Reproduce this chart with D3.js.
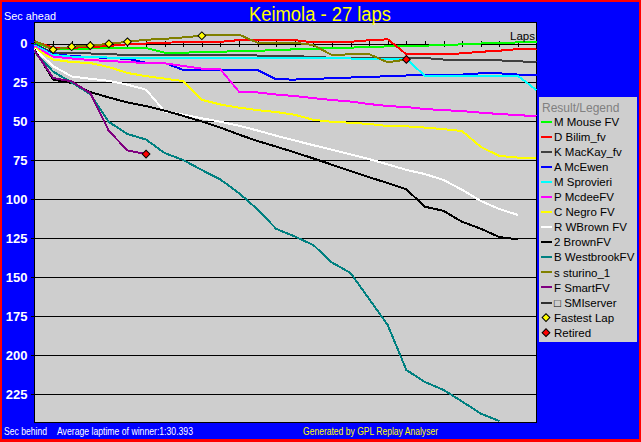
<!DOCTYPE html>
<html><head><meta charset="utf-8">
<script src="https://cdn.jsdelivr.net/npm/d3@7"></script>
<style>body{margin:0;background:#fff}svg{display:block}text{font-family:"Liberation Sans",Arial,sans-serif}</style>
</head><body>
<svg id="c" width="641" height="442"></svg>
<script>
// ---------- data ----------
const title = "Keimola - 27 laps";
const lapTicks = d3.range(1, 27);
const yTicks = [0, 25, 50, 75, 100, 125, 150, 175, 200, 225];
const drivers = ["M Mouse FV","D Bilim_fv","K MacKay_fv","A McEwen","M Sprovieri","P McdeeFV","C Negro FV","R WBrown FV","2 BrownFV","B WestbrookFV","s sturino_1","F SmartFV","\u25A1 SMIserver"];
const colors = ["#00ff00","#ff0000","#404040","#0000ff","#00ffff","#ff00ff","#ffff00","#ffffff","#000000","#008080","#808000","#800080","#303030"];
// seconds behind the winner's average pace, one value per lap (lap 0 = start)
const mouseFV    = [-0.5,3.7,3.7,3.3,3.2,3.0,3.0,6.0,6.0,5.6,5.4,4.9,4.7,4.4,3.8,3.4,3.1,2.7,2.5,1.9,1.8,1.4,1.3,0.6,0.1,-0.3,-0.6,-0.6];
const bilimFv    = [-1.3,2.8,2.8,2.4,1.7,0.6,0.1,-0.4,-0.8,-1.0,-1.0,-2.1,-2.1,-2.1,-2.1,-0.6,-0.6,-1.0,-2.0,-2.6,7.0,7.0,7.0,6.4,5.4,4.7,3.7,3.5];
const mackayFv   = [0.3,6.2,6.4,6.5,6.9,7.5,7.6,7.6,7.6,7.6,7.6,7.6,7.8,8.1,8.1,8.8,9.2,9.2,9.2,9.2,9.2,9.4,10.4,10.7,10.7,10.9,11.5,12.0];
const mcEwen     = [0.8,6.9,8.1,8.8,9.4,9.9,12.4,12.6,17.0,17.3,17.3,16.8,17.1,23.1,23.2,22.7,22.4,21.9,21.6,21.0,20.6,20.5,20.5,20.0,19.2,19.2,20.0,20.0];
const sprovieri  = [1.3,7.5,8.5,8.8,9.1,9.4,9.4,9.4,9.4,9.4,9.4,9.4,9.6,9.4,9.4,9.4,9.4,9.7,10.1,10.1,10.1,20.8,20.8,20.8,20.8,20.8,20.8,30.0];
const mcdeeFV    = [2.0,8.5,9.7,10.7,11.3,12.0,12.6,12.8,14.5,16.2,16.7,31.0,31.5,32.8,33.8,35.1,36.3,37.3,38.9,40.2,40.8,42.1,42.8,43.4,44.4,45.3,46.0,46.7];
const negroFV    = [2.8,10.4,12.0,12.6,15.2,19.0,21.0,22.6,24.2,36.2,39.2,41.2,42.8,44.0,45.8,49.0,50.3,50.9,51.7,53.0,53.2,54.0,55.0,56.2,66.3,72.2,73.2,73.3];
const wbrownFV   = [3.4,14.6,21.2,22.7,24.0,26.5,29.7,43.6,45.7,48.0,50.3,52.8,55.9,59.2,62.3,65.3,68.2,71.2,74.2,77.6,81.1,83.8,87.6,93.9,101.0,106.2,110.0];
const brownFV2   = [4.0,23.2,25.4,31.2,34.7,37.9,40.2,43.1,46.5,50.1,54.0,58.5,62.6,66.2,69.9,73.8,77.8,81.9,85.8,89.6,93.6,104.7,107.4,114.4,118.8,124.2,125.6];
const westbrook  = [5.5,18.1,25.1,32.5,50.4,58.1,61.7,70.3,74.8,81.2,87.3,96.0,106.5,118.9,123.8,129.3,140.5,147.2,163.9,180.6,209.4,217.1,222.2,229.6,237.3,242.1];
const sturino1   = [-1.7,4.0,2.2,1.5,0.3,-1.0,-2.3,-2.9,-3.8,-4.9,-5.6,-5.6,-0.4,-0.4,-0.4,1.1,7.5,7.0,6.9,12.2,10.3];
const smartFV    = [4.5,22.2,24.4,31.9,56.2,68.6,71.0];
const smiServer  = [];
const seriesValues = [mouseFV,bilimFv,mackayFv,mcEwen,sprovieri,mcdeeFV,negroFV,wbrownFV,brownFV2,westbrook,sturino1,smartFV,smiServer];
const fastestLapLaps = [1,2,3,4,5,9];
const fastestLapDriver = "s sturino_1";
const retiredDrivers = ["F SmartFV","s sturino_1"];

// ---------- layout ----------
const W = 641, H = 442;
const svg = d3.select("#c");
const L = 34.5, R = 536.5, T = 22.5, B = 422.5;
const x = d3.scaleLinear().domain([0, 27]).range([L, R]);
const y = d3.scaleLinear().domain([-13.5, 243.5]).range([22.3, 423.2]);
const plotGray = "#cecece";

svg.append("rect").attr("width", W).attr("height", H).attr("fill", "#ff0000");
svg.append("rect").attr("x", 2).attr("y", 2).attr("width", 637).attr("height", 437).attr("fill", "#0000ff");

svg.append("rect").attr("x", L).attr("y", T).attr("width", R - L).attr("height", B - T).attr("fill", plotGray);

// grid lines
const grid = svg.append("g").attr("transform", `translate(${L},0)`)
  .call(d3.axisLeft(y).tickValues(yTicks.filter(v => v > 0)).tickSize(-(R - L)).tickFormat(""));
grid.select(".domain").remove();
grid.selectAll("line").attr("stroke", "#000").attr("shape-rendering", "crispEdges");

// zero line with lap ticks
const zy = Math.round(y(0)) + 0.5;
const xa1 = svg.append("g").attr("transform", `translate(0,${zy})`)
  .call(d3.axisTop(x).tickValues(lapTicks).tickSize(3).tickSizeOuter(0).tickFormat(""));
const xa2 = svg.append("g").attr("transform", `translate(0,${zy})`)
  .call(d3.axisBottom(x).tickValues(lapTicks).tickSize(3).tickSizeOuter(0).tickFormat(""));
[xa1, xa2].forEach(g => {
  g.select(".domain").attr("stroke", "#000").attr("shape-rendering", "crispEdges");
  g.selectAll("line").attr("stroke", "#000").attr("shape-rendering", "crispEdges");
});

// y axis labels
const ya = svg.append("g").attr("transform", `translate(${L},0)`)
  .call(d3.axisLeft(y).tickValues(yTicks).tickSize(4).tickPadding(3));
ya.select(".domain").remove();
ya.selectAll("line").attr("stroke", "#000").attr("shape-rendering", "crispEdges");
ya.selectAll("text").attr("fill", "#fff").attr("font-size", 13).attr("font-weight", "bold")
  .style("font-family", '"Liberation Sans",Arial,sans-serif');

// frame
svg.append("rect").attr("x", L).attr("y", T).attr("width", R - L).attr("height", B - T)
  .attr("fill", "none").attr("stroke", "#000").attr("shape-rendering", "crispEdges");

// lines
const line = d3.line().x((d, i) => x(i)).y(d => y(d));
const plot = svg.append("g");
drivers.forEach((name, k) => {
  const vals = seriesValues[k];
  if (vals.length < 2) return;
  plot.append("path").datum(vals).attr("d", line)
    .attr("fill", "none").attr("stroke", colors[k]).attr("stroke-width", 2)
    .attr("stroke-linejoin", "round").attr("shape-rendering", "crispEdges");
});

const diamond = d3.symbol(d3.symbolSquare, 30);
// fastest laps
const fk = drivers.indexOf(fastestLapDriver);
plot.selectAll(".fl").data(fastestLapLaps).enter().append("path")
  .attr("d", diamond)
  .attr("transform", d => `translate(${x(d)},${y(seriesValues[fk][d])}) rotate(45)`)
  .attr("fill", "#ffff00").attr("stroke", "#000").attr("stroke-width", 1);
// retired
plot.selectAll(".rt").data(retiredDrivers).enter().append("path")
  .attr("d", diamond)
  .attr("transform", d => { const v = seriesValues[drivers.indexOf(d)]; return `translate(${x(v.length - 1)},${y(v[v.length - 1])}) rotate(45)`; })
  .attr("fill", "#ff0000").attr("stroke", "#000").attr("stroke-width", 1);

// texts
svg.append("text").attr("x", 320).attr("y", 21).attr("text-anchor", "middle")
  .attr("fill", "#ffff00").attr("font-size", 19.5).attr("textLength", 142).attr("lengthAdjust", "spacingAndGlyphs").text(title);
svg.append("text").attr("x", 4).attr("y", 20).attr("fill", "#fff").attr("font-size", 11)
  .attr("textLength", 52).attr("lengthAdjust", "spacingAndGlyphs").text("Sec ahead");
svg.append("text").attr("x", 535).attr("y", 40).attr("text-anchor", "end").attr("fill", "#000").attr("font-size", 11.5).text("Laps");
svg.append("text").attr("x", 4).attr("y", 435).attr("fill", "#fff").attr("font-size", 11)
  .attr("textLength", 43).attr("lengthAdjust", "spacingAndGlyphs").text("Sec behind");
svg.append("text").attr("x", 57).attr("y", 435).attr("fill", "#fff").attr("font-size", 11)
  .attr("textLength", 136).attr("lengthAdjust", "spacingAndGlyphs").text("Average laptime of winner:1:30.393");
svg.append("text").attr("x", 303).attr("y", 435).attr("fill", "#ffff00").attr("font-size", 11)
  .attr("textLength", 135).attr("lengthAdjust", "spacingAndGlyphs").text("Generated by GPL Replay Analyser");

// legend
const lg = svg.append("g");
lg.append("rect").attr("x", 539).attr("y", 97).attr("width", 98).attr("height", 245).attr("fill", plotGray);
lg.append("text").attr("x", 542).attr("y", 111.5).attr("fill", "#808080").attr("font-size", 12).text("Result/Legend");
const ly = i => 121.7 + 15.07 * i;
drivers.forEach((name, i) => {
  lg.append("line").attr("x1", 541).attr("x2", 552).attr("y1", Math.round(ly(i))).attr("y2", Math.round(ly(i)))
    .attr("stroke", colors[i]).attr("stroke-width", 2).attr("shape-rendering", "crispEdges");
  lg.append("text").attr("x", 554).attr("y", ly(i)).attr("dy", "0.36em").attr("font-size", 11.5).attr("fill", "#000").text(name);
});
const extra = [["Fastest Lap", "#ffff00"], ["Retired", "#ff0000"]];
extra.forEach(([label, fill], j) => {
  const i = drivers.length + j;
  lg.append("path").attr("d", diamond).attr("transform", `translate(546,${ly(i)}) rotate(45)`)
    .attr("fill", fill).attr("stroke", "#000").attr("stroke-width", 1);
  lg.append("text").attr("x", 554).attr("y", ly(i)).attr("dy", "0.36em").attr("font-size", 11.5).attr("fill", "#000").text(label);
});
</script>
</body></html>
